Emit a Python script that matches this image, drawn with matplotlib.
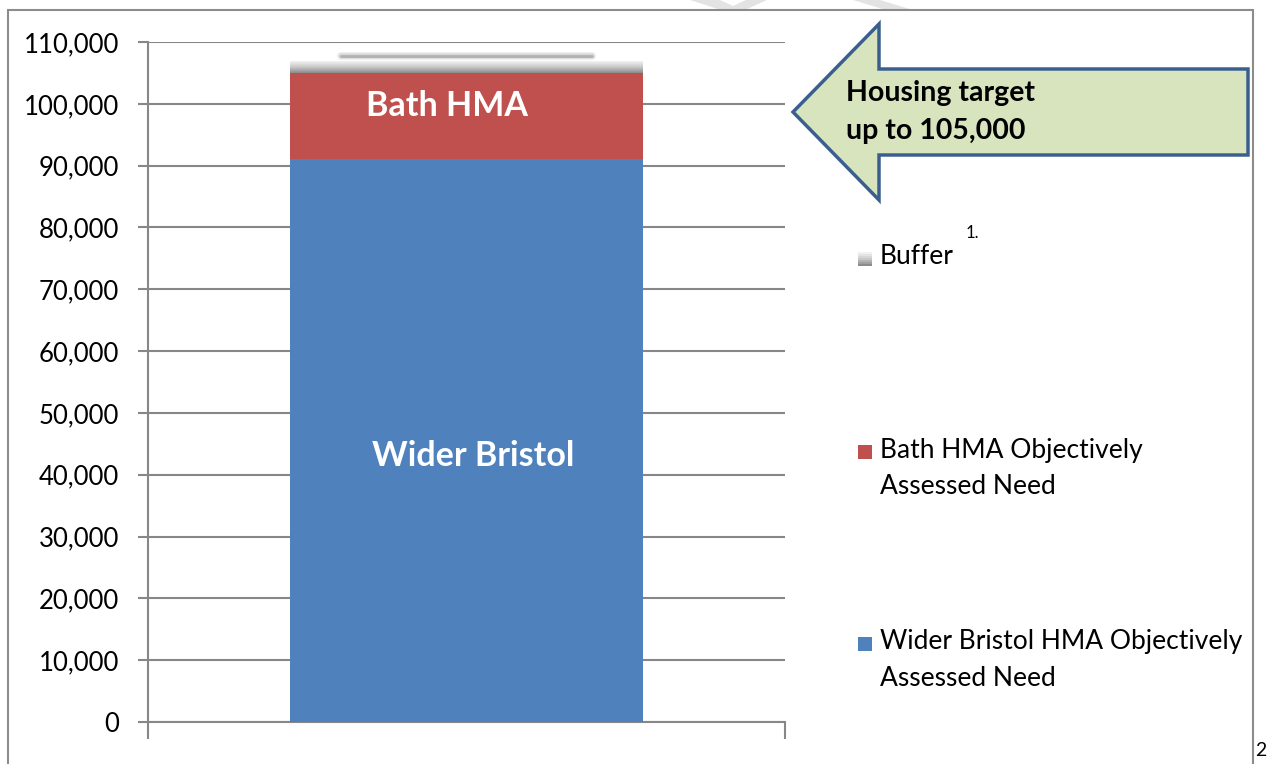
import numpy as np
import matplotlib
matplotlib.use("Agg")
import matplotlib.pyplot as plt
from matplotlib.patches import Polygon, Rectangle
from matplotlib.colors import LinearSegmentedColormap
from matplotlib.ticker import FuncFormatter, MultipleLocator

plt.rcParams["font.family"] = ["Lato", "DejaVu Sans"]

# data
SERIES = ["Wider Bristol HMA Objectively\nAssessed Need",
          "Bath HMA Objectively\nAssessed Need",
          "Buffer"]
VALUES = [91000, 14000, 1800]
COLORS = ["#4F81BD", "#C0504D", None]
BAR_LABELS = ["Wider Bristol", "Bath HMA"]
TARGET_TEXT = ["Housing target", "up to 105,000"]

W, H = 1267, 764
GRID = "#878787"


def fx(px):
    return px / W


def fy(py):
    return 1 - py / H


buffer_cmap = LinearSegmentedColormap.from_list("buf", ["#f2f2f2", "#c8c8c8", "#8c8c8c"])

fig = plt.figure(figsize=(W / 100, H / 100), dpi=100)
ax = fig.add_axes([fx(148), fy(722), (785 - 148) / W, (722 - 42) / H])

# watermark fragments and page border
for pts in ([(690, 0), (720, 0), (733, 6), (746, 0), (767, 0), (745, 10), (721, 10)],
            [(853, 0), (880, 0), (913, 10), (886, 10)]):
    fig.patches.append(Polygon([(fx(x), fy(y)) for x, y in pts], closed=True,
                               transform=fig.transFigure, facecolor="#e3e3e3",
                               edgecolor="none", zorder=0))
fig.patches.append(Rectangle((fx(8), fy(800)), (1253 - 8) / W, (800 - 10) / H,
                             transform=fig.transFigure, facecolor="none",
                             edgecolor="#8c8c8c", linewidth=1.5, zorder=1))

width = 0.553
wider, bath, buf = VALUES
ax.bar(0, wider, width, color=COLORS[0], zorder=3)
ax.bar(0, bath, width, bottom=wider, color=COLORS[1], zorder=3)
total = wider + bath
grad = np.linspace(0, 1, 50).reshape(-1, 1)
ax.imshow(grad, extent=(-width / 2, width / 2, total, total + buf), aspect="auto",
          cmap=buffer_cmap, zorder=3, origin="upper")
# soft shadow above the buffer
for lw, a in [(6, 0.08), (4, 0.15), (2, 0.3)]:
    ax.plot([-width * 0.355, width * 0.355], [total + buf + 900] * 2, color="#555555",
            lw=lw, alpha=a, solid_capstyle="round", zorder=2)

ax.set_xlim(-0.5, 0.5)
ax.set_ylim(0, 110000)
ax.yaxis.set_major_locator(MultipleLocator(10000))
ax.yaxis.set_major_formatter(FuncFormatter(lambda v, p: f"{int(v):,}"))
ax.yaxis.grid(True, color=GRID, linewidth=1.5)
ax.set_axisbelow(True)
for s in ["top", "right"]:
    ax.spines[s].set_visible(False)
for s in ["left", "bottom"]:
    ax.spines[s].set_color(GRID)
    ax.spines[s].set_linewidth(1.5)
ax.set_xticks([-0.5, 0.5])
ax.set_xticklabels([])
ax.tick_params(axis="x", length=12, width=1.5, color=GRID, direction="out")
ax.tick_params(axis="y", length=7, width=1.5, color=GRID, direction="out",
               labelsize=18.5, pad=14)

# labels inside the bar
ax.annotate(BAR_LABELS[0], (0, wider / 2), xytext=(5, -11), textcoords="offset points",
            ha="center", va="center", color="white", fontsize=24.5, fontweight="bold", zorder=4)
ax.annotate(BAR_LABELS[1], (0, wider + bath / 2), xytext=(-14, 7), textcoords="offset points",
            ha="center", va="center", color="white", fontsize=24.5, fontweight="bold", zorder=4)

# housing target arrow
arrow = [(793, 112), (879, 24), (879, 69), (1248, 69), (1248, 155), (879, 155), (879, 200)]
fig.patches.append(Polygon([(fx(x), fy(y)) for x, y in arrow], closed=True,
                           transform=fig.transFigure, facecolor="#D7E4BD",
                           edgecolor="#3A5F8F", linewidth=2.5, joinstyle="miter", zorder=5))
for i, line in enumerate(TARGET_TEXT):
    fig.text(fx(846), fy(93 + 38 * i), line, ha="left", va="center", fontsize=20.5,
             fontweight="bold", color="black", zorder=6)

# legend
legend_y = [257, 450, 642]
order = [2, 1, 0]
for y, idx in zip(legend_y, order):
    lines = SERIES[idx].split("\n")
    for j, line in enumerate(lines):
        fig.text(fx(880), fy(y + 37 * j), line, ha="left", va="center", fontsize=19,
                 color="black")
    if COLORS[idx] is None:
        for k in range(7):
            c = buffer_cmap(k / 6)
            fig.patches.append(Rectangle((fx(858), fy(y - 3 + 2 * k)), 14 / W, 2 / H,
                                         transform=fig.transFigure, facecolor=c,
                                         edgecolor="none"))
    else:
        fig.patches.append(Rectangle((fx(858), fy(y + 9)), 14 / W, 14 / H,
                                     transform=fig.transFigure, facecolor=COLORS[idx],
                                     edgecolor="none"))
fig.text(fx(966), fy(233), "1.", ha="left", va="center", fontsize=12)
fig.text(fx(1255), fy(750), "2", ha="left", va="center", fontsize=14)

fig.savefig("out.png", dpi=100, facecolor="white")
